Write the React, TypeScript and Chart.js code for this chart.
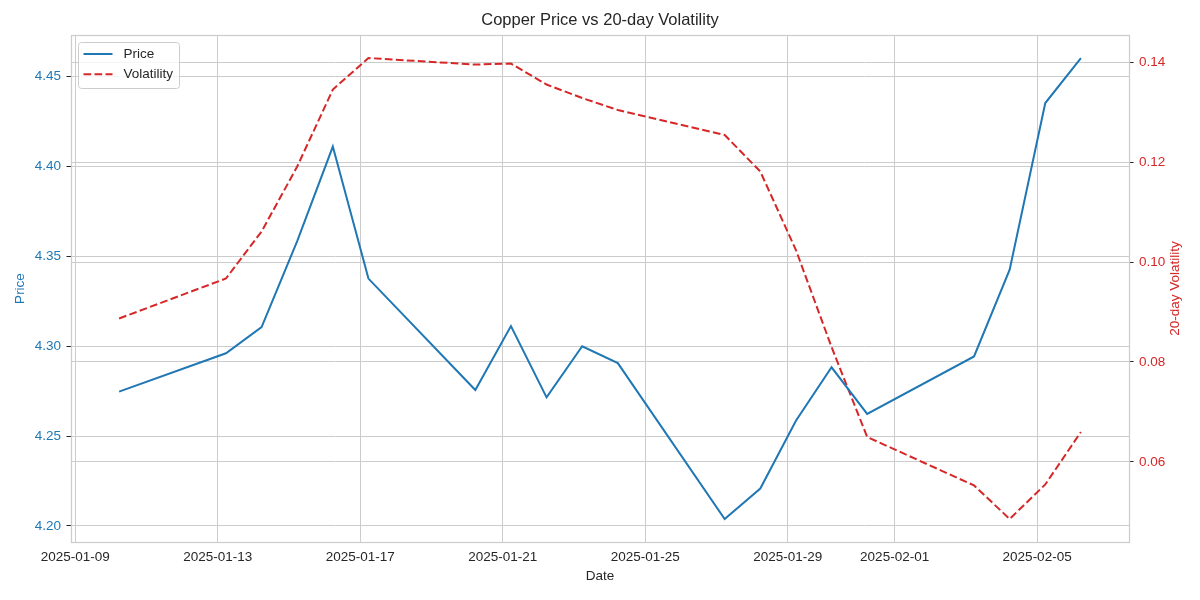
import React, { useEffect, useRef } from "react";
import { Chart, registerables } from "chart.js";

Chart.register(...registerables);

// ---- data ----
const dates = [
  "2025-01-10", "2025-01-13", "2025-01-14", "2025-01-15", "2025-01-16", "2025-01-17",
  "2025-01-20", "2025-01-21", "2025-01-22", "2025-01-23", "2025-01-24",
  "2025-01-27", "2025-01-28", "2025-01-29", "2025-01-30", "2025-01-31",
  "2025-02-03", "2025-02-04", "2025-02-05", "2025-02-06",
];
const sampleTime = "T05:30:00Z";
const price = [
  4.2747, 4.296, 4.3105, 4.3583, 4.4109, 4.3375,
  4.2756, 4.3111, 4.2715, 4.2999, 4.2905,
  4.2039, 4.2208, 4.2585, 4.2882, 4.2623,
  4.2942, 4.3425, 4.4351, 4.4601,
];
const volatility = [
  0.0887, 0.0967, 0.1061, 0.1191, 0.1345, 0.1408,
  0.1395, 0.1397, 0.1355, 0.1328, 0.1304,
  0.1254, 0.1181, 0.1024, 0.083, 0.065,
  0.0553, 0.0486, 0.0555, 0.066,
];
const xTickLabels = [
  "2025-01-09", "2025-01-13", "2025-01-17", "2025-01-21",
  "2025-01-25", "2025-01-29", "2025-02-01", "2025-02-05",
];
const priceTicks = [4.2, 4.25, 4.3, 4.35, 4.4, 4.45];
const volTicks = [0.06, 0.08, 0.1, 0.12, 0.14];

const titleText = "Copper Price vs 20-day Volatility";
const xTitle = "Date";
const yTitle = "Price";
const y1Title = "20-day Volatility";

// ---- styles ----
const FONT = "'Liberation Sans', Arial, Helvetica, sans-serif";
const BLUE = "#1f77b4";
const RED = "#d62728";
const GRID = "#cccccc";
const TEXT = "#262626";
const FS = 13.5;

const padRange = (vals: number[]) => {
  const mn = Math.min(...vals);
  const mx = Math.max(...vals);
  const m = (mx - mn) * 0.05;
  return { min: mn - m, max: mx + m };
};

const customPlugin = {
  id: "customDecor",
  afterDraw(chart: any) {
    const ctx = chart.ctx as CanvasRenderingContext2D;
    const a = chart.chartArea;
    ctx.save();
    // frame
    ctx.strokeStyle = GRID;
    ctx.lineWidth = 1.25;
    ctx.strokeRect(Math.round(a.left) + 0.5, Math.round(a.top) + 0.5, Math.round(a.right - a.left), Math.round(a.bottom - a.top));

    // right axis title (reads bottom to top)
    ctx.fillStyle = RED;
    ctx.font = `${FS}px ${FONT}`;
    ctx.textAlign = "center";
    ctx.textBaseline = "middle";
    ctx.translate(chart.width - 25, (a.top + a.bottom) / 2);
    ctx.rotate(-Math.PI / 2);
    ctx.fillText(y1Title, 0, 0);
    ctx.setTransform(1, 0, 0, 1, 0, 0);

    // legend
    const x0 = a.left + 7.5;
    const y0 = a.top + 7.5;
    const w = 101;
    const h = 46;
    ctx.beginPath();
    (ctx as any).roundRect(x0, y0, w, h, 3);
    ctx.fillStyle = "rgba(255,255,255,0.8)";
    ctx.fill();
    ctx.strokeStyle = GRID;
    ctx.lineWidth = 1;
    ctx.stroke();
    chart.data.datasets.forEach((ds: any, i: number) => {
      const y = y0 + 11.5 + i * 20.3;
      ctx.beginPath();
      ctx.setLineDash(ds.borderDash || []);
      ctx.strokeStyle = ds.borderColor;
      ctx.lineWidth = 2;
      ctx.moveTo(x0 + 5, y);
      ctx.lineTo(x0 + 34, y);
      ctx.stroke();
      ctx.setLineDash([]);
      ctx.fillStyle = TEXT;
      ctx.font = `${FS}px ${FONT}`;
      ctx.textAlign = "left";
      ctx.textBaseline = "middle";
      ctx.fillText(ds.label, x0 + 45, y);
    });
    ctx.restore();
  },
};

export default function App() {
  const ref = useRef<HTMLCanvasElement | null>(null);

  useEffect(() => {
    if (!ref.current) return;
    const xs = dates.map((d) => Date.parse(d + sampleTime));
    const xTickVals = xTickLabels.map((d) => Date.parse(d + "T00:00:00Z"));
    const xr = padRange(xs);
    const pr = padRange(price);
    const vr = padRange(volatility);

    const chart = new Chart(ref.current, {
      type: "line",
      data: {
        datasets: [
          {
            label: "Price",
            data: xs.map((x, i) => ({ x, y: price[i] })),
            borderColor: BLUE,
            backgroundColor: BLUE,
            borderWidth: 2,
            pointRadius: 0,
            tension: 0,
            yAxisID: "y",
          },
          {
            label: "Volatility",
            data: xs.map((x, i) => ({ x, y: volatility[i] })),
            borderColor: RED,
            backgroundColor: RED,
            borderWidth: 2,
            borderDash: [7.7, 3.3],
            pointRadius: 0,
            tension: 0,
            yAxisID: "y1",
          },
        ],
      },
      options: {
        responsive: false,
        animation: false,
        layout: { padding: 0 },
        plugins: {
          legend: { display: false },
          tooltip: { enabled: false },
          title: {
            display: true,
            text: titleText,
            color: TEXT,
            font: { family: FONT, size: 16.5, weight: "normal" },
            padding: { top: 10.6, bottom: 4.6 },
          },
        },
        scales: {
          x: {
            type: "linear",
            min: xr.min,
            max: xr.max,
            afterBuildTicks: (s: any) => {
              s.ticks = xTickVals.map((v) => ({ value: v }));
            },
            afterFit: (s: any) => {
              s.height = 58;
            },
            grid: { color: GRID, lineWidth: 1, drawTicks: false },
            border: { display: false },
            ticks: {
              color: TEXT,
              font: { family: FONT, size: FS },
              padding: 7,
              maxRotation: 0,
              autoSkip: false,
              callback: (_v: any, i: number) => xTickLabels[i],
            },
            title: {
              display: true,
              text: xTitle,
              color: TEXT,
              font: { family: FONT, size: FS },
              padding: { top: 0, bottom: 16 },
            },
          },
          y: {
            type: "linear",
            position: "left",
            min: pr.min,
            max: pr.max,
            afterBuildTicks: (s: any) => {
              s.ticks = priceTicks.map((v) => ({ value: v }));
            },
            afterFit: (s: any) => {
              s.width = 71;
            },
            grid: { color: GRID, lineWidth: 1, tickColor: TEXT, tickLength: 4.5 },
            border: { display: false },
            ticks: {
              color: BLUE,
              font: { family: FONT, size: FS },
              padding: 5.5,
              callback: (v: any) => Number(v).toFixed(2),
            },
            title: {
              display: true,
              text: yTitle,
              color: BLUE,
              font: { family: FONT, size: FS },
              padding: { top: 12, bottom: 0 },
            },
          },
          y1: {
            type: "linear",
            position: "right",
            min: vr.min,
            max: vr.max,
            afterBuildTicks: (s: any) => {
              s.ticks = volTicks.map((v) => ({ value: v }));
            },
            afterFit: (s: any) => {
              s.width = 71;
            },
            grid: { color: GRID, lineWidth: 1, tickColor: TEXT, tickLength: 4.5, drawOnChartArea: true },
            border: { display: false },
            ticks: {
              color: RED,
              font: { family: FONT, size: FS },
              padding: 5.5,
              callback: (v: any) => Number(v).toFixed(2),
            },
            title: { display: false },
          },
        },
      },
      plugins: [customPlugin],
    } as any);

    return () => chart.destroy();
  }, []);

  return (
    <div style={{ position: "fixed", left: 0, top: 0, width: 1200, height: 600, background: "#ffffff" }}>
      <canvas ref={ref} width={1200} height={600} style={{ display: "block", width: 1200, height: 600 }} />
    </div>
  );
}
